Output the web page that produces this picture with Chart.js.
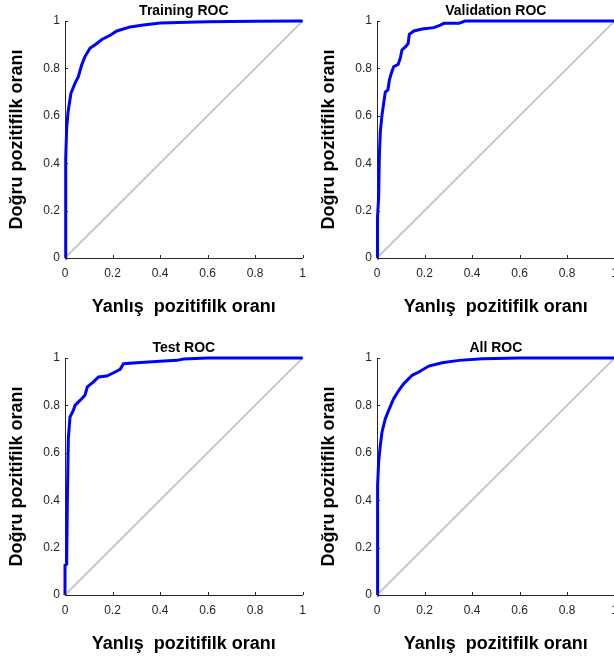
<!DOCTYPE html>
<html>
<head>
<meta charset="utf-8">
<script src="https://cdn.jsdelivr.net/npm/chart.js@4.4.1/dist/chart.umd.min.js"></script>
<style>
    html, body { margin: 0; padding: 0; background: #fff; overflow: hidden; width: 614px; height: 659px; }
    .panel { position: absolute; width: 314px; height: 322px; }
</style>
</head>
<body>
<div class="panel" style="left:0;top:0"><canvas id="trainChart"></canvas></div>
<div class="panel" style="left:312px;top:0"><canvas id="valChart"></canvas></div>
<div class="panel" style="left:0;top:337px"><canvas id="testChart"></canvas></div>
<div class="panel" style="left:312px;top:337px"><canvas id="allChart"></canvas></div>
<script>
// values (false positive rate / true positive rate)
const trainFpr = [0, 0.002, 0.004, 0.007, 0.013, 0.025, 0.042, 0.056, 0.070, 0.084, 0.105, 0.134, 0.155, 0.19, 0.218, 0.274, 0.33, 0.40, 0.6, 0.8, 1];
const trainTpr = [0, 0.2, 0.42, 0.547, 0.617, 0.695, 0.737, 0.765, 0.814, 0.85, 0.885, 0.905, 0.922, 0.94, 0.958, 0.975, 0.983, 0.992, 0.997, 0.999, 1];

const valFpr = [0, 0, 0.004, 0.007, 0.010, 0.014, 0.021, 0.028, 0.035, 0.046, 0.052, 0.060, 0.070, 0.089, 0.098, 0.105, 0.12, 0.131, 0.136, 0.155, 0.19, 0.239, 0.267, 0.281, 0.345, 0.37, 1];
const valTpr = [0, 0.167, 0.167, 0.259, 0.435, 0.533, 0.603, 0.653, 0.70, 0.709, 0.751, 0.779, 0.807, 0.817, 0.843, 0.878, 0.892, 0.905, 0.944, 0.958, 0.966, 0.972, 0.983, 0.99, 0.99, 1, 1];

const testFpr = [0, 0, 0.007, 0.010, 0.014, 0.021, 0.035, 0.042, 0.063, 0.084, 0.094, 0.12, 0.141, 0.176, 0.211, 0.232, 0.246, 0.302, 0.40, 0.471, 0.499, 0.6, 1];
const testTpr = [0, 0.125, 0.13, 0.406, 0.66, 0.751, 0.779, 0.80, 0.821, 0.843, 0.878, 0.899, 0.92, 0.924, 0.941, 0.952, 0.976, 0.98, 0.986, 0.99, 0.996, 1, 1];

const allFpr = [0, 0.001, 0.004, 0.007, 0.014, 0.021, 0.035, 0.049, 0.07, 0.092, 0.113, 0.148, 0.176, 0.218, 0.274, 0.345, 0.443, 0.6, 1];
const allTpr = [0, 0.181, 0.464, 0.561, 0.632, 0.688, 0.744, 0.779, 0.828, 0.864, 0.892, 0.927, 0.941, 0.966, 0.98, 0.99, 0.997, 1, 1];

const chanceLine = [0, 1];
const tickValues = [0, 0.2, 0.4, 0.6, 0.8, 1];
const tickLabels = ['0', '0.2', '0.4', '0.6', '0.8', '1'];
const panelTitles = ['Training ROC', 'Validation ROC', 'Test ROC', 'All ROC'];
const xAxisTitle = 'Yanlış  pozitifilk oranı';
const yAxisTitle = 'Doğru pozitifilk oranı';

const axisColor = '#262626';

// MATLAB style: short tick marks pointing into the plot
const inwardTicks = {
    id: 'inwardTicks',
    afterDraw(chart) {
        const {ctx, scales} = chart;
        ctx.save();
        ctx.strokeStyle = axisColor;
        ctx.lineWidth = 1;
        ctx.beginPath();
        tickValues.forEach(v => {
            const x = Math.round(scales.x.getPixelForValue(v)) + 0.5;
            ctx.moveTo(x, scales.x.top);
            ctx.lineTo(x, scales.x.top - 3);
            const y = Math.round(scales.y.getPixelForValue(v)) + 0.5;
            ctx.moveTo(scales.y.right, y);
            ctx.lineTo(scales.y.right + 3, y);
        });
        ctx.stroke();
        ctx.restore();
    }
};

function toPoints(xs, ys) {
    return xs.map((x, i) => ({x: x, y: ys[i]}));
}

function setTicks(scale) {
    scale.ticks = tickValues.map(v => ({value: v}));
}

function createChart(ctx, title, fpr, tpr) {
    return new Chart(ctx, {
        type: 'line',
        data: {
            datasets: [{
                data: toPoints(fpr, tpr),
                borderColor: '#0000ff',
                borderWidth: 3,
                pointRadius: 0,
                tension: 0,
                clip: 5,
                order: 0
            }, {
                data: toPoints(chanceLine, chanceLine),
                borderColor: '#c8c8c8',
                borderWidth: 2,
                pointRadius: 0,
                order: 1
            }]
        },
        options: {
            responsive: true,
            maintainAspectRatio: false,
            animation: false,
            layout: { padding: 0 },
            scales: {
                x: {
                    type: 'linear',
                    min: 0,
                    max: 1,
                    afterBuildTicks: setTicks,
                    afterFit: s => { s.height = 64; },
                    grid: { display: false, drawTicks: false },
                    border: { color: axisColor, width: 1 },
                    ticks: {
                        padding: 8,
                        maxRotation: 0,
                        color: axisColor,
                        font: { family: 'Liberation Sans', size: 12 },
                        callback: (value, index) => tickLabels[index]
                    },
                    title: {
                        display: true,
                        text: xAxisTitle,
                        color: '#000',
                        font: { family: 'Liberation Sans', size: 18, weight: 'bold' },
                        padding: { top: 0, bottom: 4 }
                    }
                },
                y: {
                    type: 'linear',
                    min: 0,
                    max: 1,
                    afterBuildTicks: setTicks,
                    afterFit: s => { s.width = 65; },
                    grid: { display: false, drawTicks: false },
                    border: { color: axisColor, width: 1 },
                    ticks: {
                        padding: 5,
                        color: axisColor,
                        font: { family: 'Liberation Sans', size: 12 },
                        callback: (value, index) => tickLabels[index]
                    },
                    title: {
                        display: true,
                        text: yAxisTitle,
                        color: '#000',
                        font: { family: 'Liberation Sans', size: 18, weight: 'bold' },
                        padding: { top: 6, bottom: 0 }
                    }
                }
            },
            plugins: {
                legend: { display: false },
                tooltip: { enabled: false },
                title: {
                    display: true,
                    text: title,
                    fullSize: false,
                    color: '#000',
                    font: { family: 'Liberation Sans', size: 14, weight: 'bold' },
                    padding: { top: 3, bottom: 1.2 }
                }
            }
        },
        plugins: [inwardTicks]
    });
}

createChart(document.getElementById('trainChart').getContext('2d'), panelTitles[0], trainFpr, trainTpr);
createChart(document.getElementById('valChart').getContext('2d'), panelTitles[1], valFpr, valTpr);
createChart(document.getElementById('testChart').getContext('2d'), panelTitles[2], testFpr, testTpr);
createChart(document.getElementById('allChart').getContext('2d'), panelTitles[3], allFpr, allTpr);
</script>
</body>
</html>
